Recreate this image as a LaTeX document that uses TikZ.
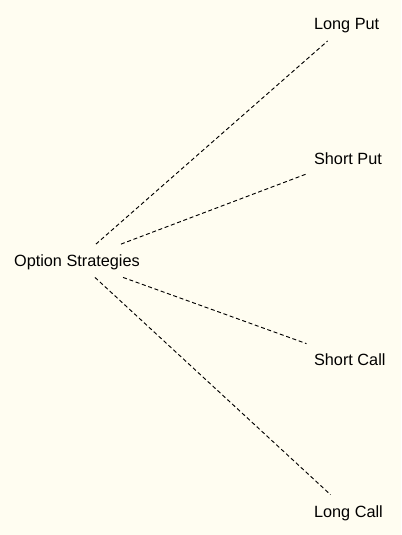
\documentclass[tikz,border=0pt]{standalone}
\usepackage{fontspec}
\setmainfont{Liberation Sans}
\definecolor{paper}{RGB}{255,253,241}
\tikzset{
  term/.style={font=\fontsize{12.2}{14}\selectfont, inner xsep=5.5pt, inner ysep=8pt,
    text height=8.6pt, text depth=0pt, anchor=base west},
  branch/.style={line width=0.7pt, dash pattern=on 3pt off 2pt}
}

\begin{document}
\begin{tikzpicture}[x=0.75pt, y=-0.75pt]
		%%%%% START %%%%%
		\fill[paper] (0, 0) rectangle (401, 535);
		
		\node[term] (strat) at (6.5, 266.5) {Option Strategies};
		
		\node[term] (longput) at (306.5, 30) {Long Put};
		\node[term] (shortput) at (306.5, 164) {Short Put};
		\node[term] (shortcall) at (306.5, 365) {Short Call};
		\node[term] (longcall) at (306.5, 517) {Long Call};
		
		\draw[branch] (strat) -- (longput);
		\draw[branch] (strat) -- (shortput);
		\draw[branch] (strat) -- (shortcall);
		\draw[branch] (strat) -- (longcall);
		%%%%% END %%%%%
	\end{tikzpicture}
\end{document}
